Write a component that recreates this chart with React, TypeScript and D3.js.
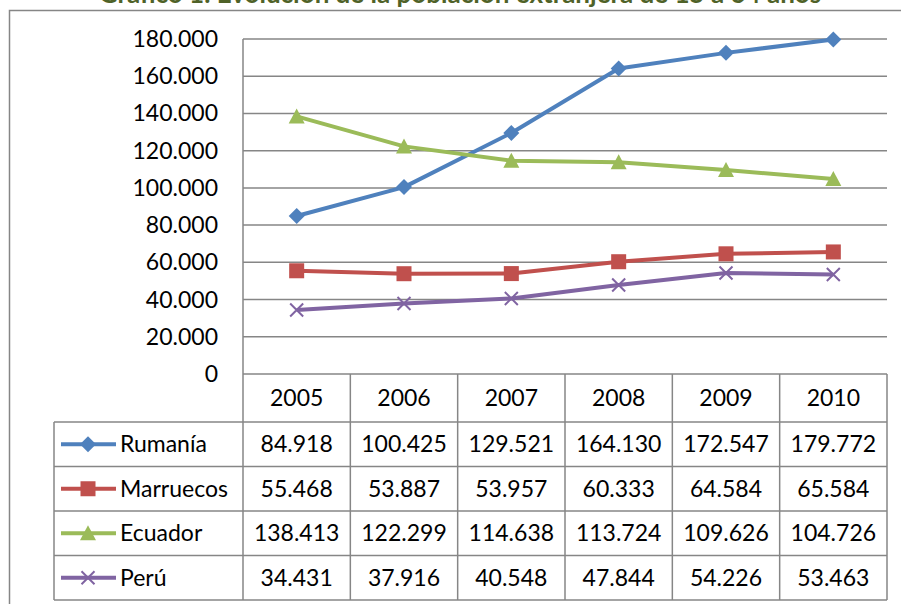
import * as d3 from "d3"
import { useEffect, useRef } from "react"

const years = ["2005", "2006", "2007", "2008", "2009", "2010"]
const rumania = [84918, 100425, 129521, 164130, 172547, 179772]
const marruecos = [55468, 53887, 53957, 60333, 64584, 65584]
const ecuador = [138413, 122299, 114638, 113724, 109626, 104726]
const peru = [34431, 37916, 40548, 47844, 54226, 53463]
const yTicks = [0, 20000, 40000, 60000, 80000, 100000, 120000, 140000, 160000, 180000]

const series = [
  { name: "Rumanía", values: rumania, color: "#4F81BD", marker: "diamond" },
  { name: "Marruecos", values: marruecos, color: "#C0504D", marker: "square" },
  { name: "Ecuador", values: ecuador, color: "#9BBB59", marker: "triangle" },
  { name: "Perú", values: peru, color: "#8064A2", marker: "cross" },
]

const fmt = (v: number) => d3.format(",")(v).replace(/,/g, ".")

const App = () => {
  const svgRef = useRef<SVGSVGElement | null>(null)

  useEffect(() => {
    if (!svgRef.current) return
    const svg = d3.select(svgRef.current)
    svg.selectAll("*").remove()

    const width = 901
    const height = 604
    const plot = { left: 243, right: 887, top: 39, bottom: 374 }
    const legendLeft = 54
    const headerH = 48
    const rowH = 44.5
    const grid = "#868686"
    const font = "Lato, 'Open Sans', sans-serif"
    const fs = 23

    const x = d3.scaleBand().domain(years).range([plot.left, plot.right]).padding(0)
    const y = d3.scaleLinear().domain([0, 180000]).range([plot.bottom, plot.top])

    // Title (cut off by the top edge, as in the source)
    svg
      .append("text")
      .attr("x", 460)
      .attr("y", 3)
      .attr("text-anchor", "middle")
      .attr("fill", "#4F6228")
      .style("font", `bold 26px ${font}`)
      .text("Gráfico 1. Evolución de la población extranjera de 15 a 64 años")

    // Outer frame
    svg
      .append("rect")
      .attr("x", 9.5)
      .attr("y", 10.5)
      .attr("width", width + 20)
      .attr("height", height + 20)
      .attr("fill", "none")
      .attr("stroke", grid)
      .attr("stroke-width", 1.5)

    // Gridlines
    svg
      .append("g")
      .selectAll("line")
      .data(yTicks)
      .enter()
      .append("line")
      .attr("x1", plot.left)
      .attr("x2", plot.right)
      .attr("y1", (d) => y(d))
      .attr("y2", (d) => y(d))
      .attr("stroke", grid)
      .attr("stroke-width", 1.5)

    // Y tick labels
    svg
      .append("g")
      .selectAll("text")
      .data(yTicks)
      .enter()
      .append("text")
      .attr("x", 218)
      .attr("y", (d) => y(d))
      .attr("dy", "0.35em")
      .attr("text-anchor", "end")
      .attr("fill", "#000")
      .style("font", `${fs}px ${font}`)
      .text((d) => (d === 0 ? "0" : fmt(d)))

    // Data table under the plot
    const tableTop = plot.bottom
    const rowsTop = tableTop + headerH
    const tableBottom = rowsTop + rowH * series.length
    const table = svg.append("g")

    const colEdges = [...years.map((yr) => x(yr)!), plot.right]
    table
      .selectAll(".col")
      .data(colEdges)
      .enter()
      .append("line")
      .attr("x1", (d) => d)
      .attr("x2", (d) => d)
      .attr("y1", (d, i) => (i === 0 ? plot.top : tableTop))
      .attr("y2", tableBottom)
      .attr("stroke", grid)
      .attr("stroke-width", 1.5)

    const rowEdges = d3.range(series.length + 1).map((i) => rowsTop + i * rowH)
    table
      .selectAll(".row")
      .data(rowEdges)
      .enter()
      .append("line")
      .attr("x1", legendLeft)
      .attr("x2", plot.right)
      .attr("y1", (d) => d)
      .attr("y2", (d) => d)
      .attr("stroke", grid)
      .attr("stroke-width", 1.5)

    table
      .append("line")
      .attr("x1", legendLeft)
      .attr("x2", legendLeft)
      .attr("y1", rowsTop)
      .attr("y2", tableBottom)
      .attr("stroke", grid)
      .attr("stroke-width", 1.5)

    table
      .selectAll(".year")
      .data(years)
      .enter()
      .append("text")
      .attr("x", (d) => x(d)! + x.bandwidth() / 2)
      .attr("y", tableTop + headerH / 2)
      .attr("dy", "0.35em")
      .attr("text-anchor", "middle")
      .attr("fill", "#000")
      .style("font", `${fs}px ${font}`)
      .text((d) => d)

    const drawMarker = (
      g: d3.Selection<SVGGElement, unknown, null, undefined>,
      type: string,
      color: string,
      cx: number,
      cy: number,
    ) => {
      if (type === "diamond") {
        g.append("path")
          .attr("d", `M${cx},${cy - 8}L${cx + 8},${cy}L${cx},${cy + 8}L${cx - 8},${cy}Z`)
          .attr("fill", color)
      } else if (type === "square") {
        g.append("rect")
          .attr("x", cx - 7.5)
          .attr("y", cy - 7.5)
          .attr("width", 15)
          .attr("height", 15)
          .attr("fill", color)
      } else if (type === "triangle") {
        g.append("path")
          .attr("d", `M${cx},${cy - 8}L${cx + 8},${cy + 7}L${cx - 8},${cy + 7}Z`)
          .attr("fill", color)
      } else {
        g.append("path")
          .attr("d", `M${cx - 6.5},${cy - 6.5}L${cx + 6.5},${cy + 6.5}M${cx - 6.5},${cy + 6.5}L${cx + 6.5},${cy - 6.5}`)
          .attr("stroke", color)
          .attr("stroke-width", 2)
      }
    }

    // Rows: legend key + values
    series.forEach((s, i) => {
      const cy = rowsTop + i * rowH + rowH / 2
      const lg = table.append("g")
      lg.append("line")
        .attr("x1", 61)
        .attr("x2", 116)
        .attr("y1", cy)
        .attr("y2", cy)
        .attr("stroke", s.color)
        .attr("stroke-width", 4)
      drawMarker(lg, s.marker, s.color, 88, cy)
      lg.append("text")
        .attr("x", 120)
        .attr("y", cy)
        .attr("dy", "0.35em")
        .attr("fill", "#000")
        .style("font", `${fs}px ${font}`)
        .text(s.name)

      table
        .append("g")
        .selectAll("text")
        .data(s.values)
        .enter()
        .append("text")
        .attr("x", (d, j) => x(years[j])! + x.bandwidth() / 2)
        .attr("y", cy)
        .attr("dy", "0.35em")
        .attr("text-anchor", "middle")
        .attr("fill", "#000")
        .style("font", `${fs}px ${font}`)
        .text((d) => fmt(d))
    })

    // Lines with markers
    const line = d3
      .line<number>()
      .x((d, j) => x(years[j])! + x.bandwidth() / 2)
      .y((d) => y(d))

    series.forEach((s) => {
      const g = svg.append("g")
      g.append("path")
        .attr("d", line(s.values))
        .attr("fill", "none")
        .attr("stroke", s.color)
        .attr("stroke-width", 4)
        .attr("stroke-linejoin", "round")
      s.values.forEach((v, j) => {
        drawMarker(g, s.marker, s.color, x(years[j])! + x.bandwidth() / 2, y(v))
      })
    })
  }, [])

  return (
    <svg
      ref={svgRef}
      width={901}
      height={604}
      style={{ position: "absolute", left: 0, top: 0, background: "#fff" }}
    />
  )
}

export default App
